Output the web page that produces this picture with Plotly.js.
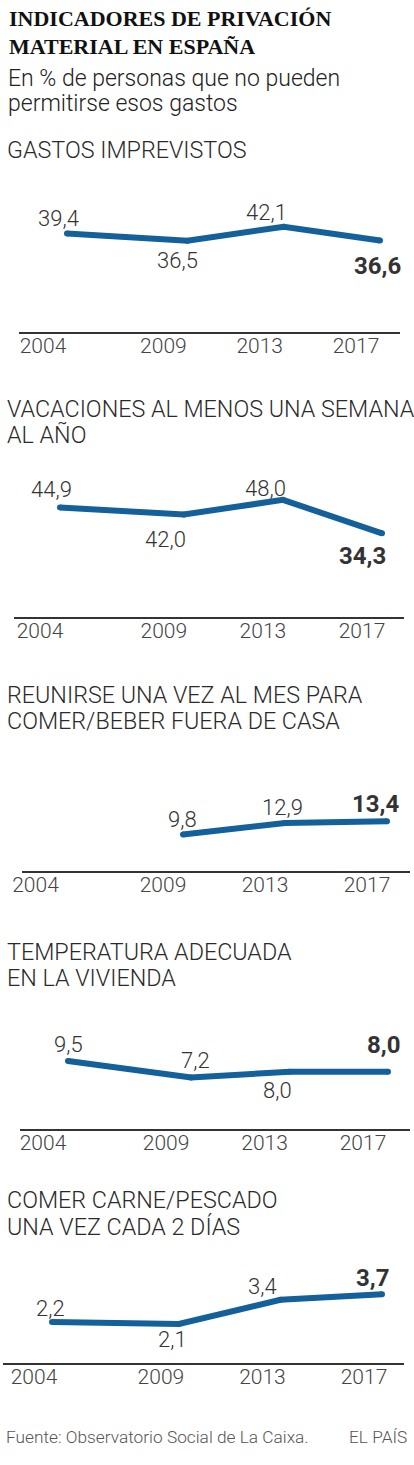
<!DOCTYPE html>
<html>
<head>
<meta charset="utf-8">
<script src="https://cdn.plot.ly/plotly-3.0.1.min.js"></script>
<style>
  html, body { margin: 0; padding: 0; background: #fff; }
  #chart { width: 414px; height: 1465px; }
</style>
</head>
<body>
<div id="chart"></div>
<script>
// ---------------- DATA ----------------
const years = [2004, 2009, 2013, 2017];
const tickLabels = ['2004', '2009', '2013', '2017'];

const gastosImprevistos = [39.4, 36.5, 42.1, 36.6];
const vacaciones        = [44.9, 42.0, 48.0, 34.3];
const reunirse          = [null, 9.8, 12.9, 13.4];
const temperatura       = [9.5, 7.2, 8.0, 8.0];
const carnePescado      = [2.2, 2.1, 3.4, 3.7];

const headline = ['INDICADORES DE PRIVACIÓN', 'MATERIAL EN ESPAÑA'];
const subtitle = ['En % de personas que no pueden', 'permitirse esos gastos'];
const panelTitles = [
  ['GASTOS IMPREVISTOS'],
  ['VACACIONES AL MENOS UNA SEMANA', 'AL AÑO'],
  ['REUNIRSE UNA VEZ AL MES PARA', 'COMER/BEBER FUERA DE CASA'],
  ['TEMPERATURA ADECUADA', 'EN LA VIVIENDA'],
  ['COMER CARNE/PESCADO', 'UNA VEZ CADA 2 DÍAS']
];
const source = 'Fuente: Observatorio Social de La Caixa.';
const brand = 'EL PAÍS';

const series = [gastosImprevistos, vacaciones, reunirse, temperatura, carnePescado];

// ---------------- LAYOUT SETTINGS (pixels) ----------------
const W = 414, H = 1465;
const LINE_COLOR = '#13609a';
const TEXT = '#333333';
const FONT = 'Roboto, "Open Sans", sans-serif';

// per panel: axis line y, px per unit, top of plot, axis line extents, pixel of first/last year,
// tick label shift, title line centres, label offsets (dx, dy to digit centre, + = up)
const panels = [
  { axisY: 332, ppu: 2.5,  top: 190, xl: 19, xr: 400, ya: 2004, pa: 67,  yb: 2017, pb: 380, shift: -24,
    titleY: [150.5],
    lab: [[-9, 14.5], [-10, -19.5], [-17, 14.5], [-3, -25.5]] },
  { axisY: 617, ppu: 2.44, top: 470, xl: 14, xr: 404, ya: 2004, pa: 60,  yb: 2017, pb: 382, shift: -20,
    titleY: [408.5, 435],
    lab: [[-9, 17.5], [-18, -24.5], [-17, 11.5], [-20, -22.5]] },
  { axisY: 871, ppu: 3.72, top: 780, xl: 22, xr: 410, ya: 2009, pa: 183, yb: 2017, pb: 387, shift: -20,
    titleY: [695, 721.5],
    lab: [null, [-1, 15.5], [-3, 15.5], [-12, 17.5]] },
  { axisY: 1129, ppu: 7.15, top: 1025, xl: 20, xr: 410, ya: 2004, pa: 68, yb: 2017, pb: 388, shift: -25,
    titleY: [951.5, 978],
    lab: [[0, 16.5], [4, 17], [-12, -18.5], [-5, 26.5]] },
  { axisY: 1363, ppu: 18.6, top: 1260, xl: 3, xr: 404, ya: 2004, pa: 52, yb: 2017, pb: 382, shift: -18,
    titleY: [1200, 1226.5],
    lab: [[-2, 13.5], [-6, -15.5], [-18, 13.5], [-10, 16.5]] }
];

const fmt = v => v.toFixed(1).replace('.', ',');
const py = p => 1 - p / H;

const data = [];
const annotations = [];
const layout = {
  width: W, height: H,
  margin: { l: 0, r: 0, t: 0, b: 0, pad: 0 },
  paper_bgcolor: '#ffffff', plot_bgcolor: 'rgba(0,0,0,0)',
  showlegend: false,
  font: { family: FONT, color: TEXT },
  annotations: annotations
};

function textAnn(txt, xPix, yPix, font, anchor) {
  annotations.push({
    text: txt, xref: 'paper', yref: 'paper',
    x: xPix / W, y: py(yPix), xanchor: anchor || 'left', yanchor: 'middle',
    showarrow: false, font: font, borderpad: 0
  });
}

// headline & subtitle
const headFont = { family: '"Liberation Serif", "DejaVu Serif", serif', size: 22, color: '#111111', weight: 700 };
textAnn('<b>' + headline[0] + '</b>', 8, 18.5, headFont);
textAnn('<b>' + headline[1] + '</b>', 8, 46.5, headFont);
const subFont = { family: FONT, size: 23, color: '#222222', weight: 300 };
textAnn(subtitle[0], 7, 79, subFont);
textAnn(subtitle[1], 7, 104, subFont);

panels.forEach((p, i) => {
  const n = i + 1;
  const xa = n === 1 ? 'xaxis' : 'xaxis' + n;
  const yaName = n === 1 ? 'yaxis' : 'yaxis' + n;
  const xr = n === 1 ? 'x' : 'x' + n;
  const yr = n === 1 ? 'y' : 'y' + n;
  const pxYear = (p.pb - p.pa) / (p.yb - p.ya);
  const x0 = p.ya - (p.pa - p.xl) / pxYear;
  const x1 = p.yb + (p.xr - p.pb) / pxYear;

  layout[xa] = {
    domain: [p.xl / W, p.xr / W], range: [x0, x1], anchor: yr,
    showline: true, linecolor: '#333333', linewidth: 1.5,
    showgrid: false, zeroline: false, ticks: '',
    tickmode: 'array', tickvals: years, ticktext: tickLabels,
    tickfont: { family: FONT, size: 21, color: '#444444', weight: 300 },
    ticklabelshift: p.shift, ticklabelstandoff: -6, fixedrange: true
  };
  layout[yaName] = {
    domain: [py(p.axisY), py(p.top)],
    range: [0, (p.axisY - p.top) / p.ppu], anchor: xr,
    visible: false, showgrid: false, zeroline: false, fixedrange: true
  };

  const vals = series[i];
  data.push({
    type: 'scatter', mode: 'lines+markers', x: years, y: vals,
    xaxis: xr, yaxis: yr, connectgaps: false,
    line: { color: LINE_COLOR, width: 6 },
    marker: { color: LINE_COLOR, size: 6 },
    hoverinfo: 'skip', cliponaxis: false
  });

  // titles
  panelTitles[i].forEach((t, k) => {
    textAnn(t, 6, p.titleY[k], { family: FONT, size: 23.3, color: '#2a2a2a', weight: 300 });
  });

  // value labels
  vals.forEach((v, k) => {
    if (v === null || !p.lab[k]) return;
    const last = k === vals.length - 1;
    annotations.push({
      text: last ? '<b>' + fmt(v) + '</b>' : fmt(v),
      x: years[k], y: v, xref: xr, yref: yr,
      xanchor: 'center', yanchor: 'middle',
      xshift: p.lab[k][0], yshift: p.lab[k][1],
      showarrow: false, borderpad: 0,
      font: last ? { family: FONT, size: 24, color: TEXT, weight: 700 }
                 : { family: FONT, size: 22, color: TEXT, weight: 300 }
    });
  });
});

// footer
textAnn(source, 5, 1437, { family: FONT, size: 17.3, color: '#555555', weight: 300 });
textAnn(brand, 408, 1437, { family: FONT, size: 17.3, color: '#555555', weight: 300 }, 'right');

Plotly.newPlot('chart', data, layout, { staticPlot: true, displayModeBar: false });
</script>
</body>
</html>
